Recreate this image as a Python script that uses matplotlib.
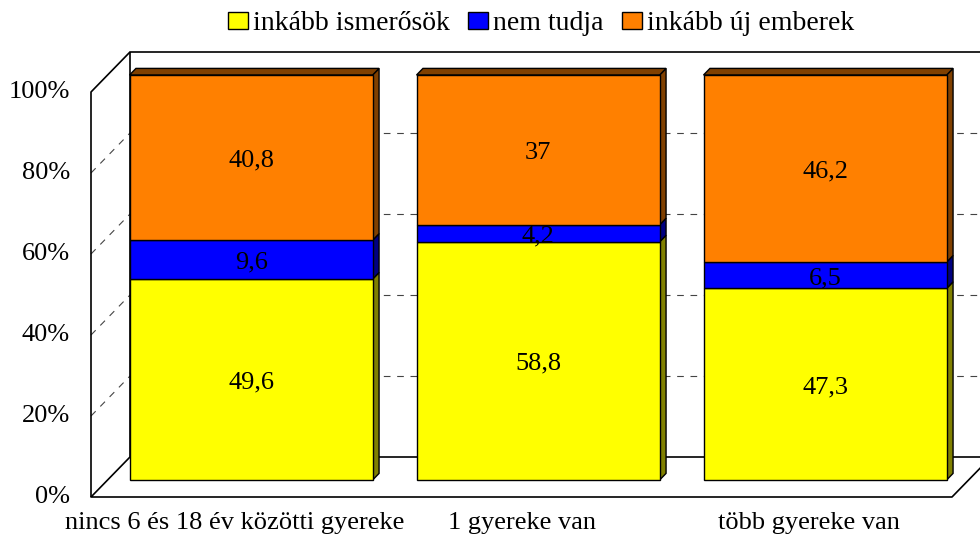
import matplotlib
matplotlib.use("Agg")
import matplotlib.pyplot as plt
from matplotlib.patches import Polygon, Patch

categories = ["nincs 6 és 18 év közötti gyereke", "1 gyereke van", "több gyereke van"]
series_names = ["inkább ismerősök", "nem tudja", "inkább új emberek"]
ismerosok = [49.6, 58.8, 47.3]
nem_tudja = [9.6, 4.2, 6.5]
uj_emberek = [40.8, 37.0, 46.2]
series_values = [ismerosok, nem_tudja, uj_emberek]
y_ticks = [0, 20, 40, 60, 80, 100]

front_colors = ["#FFFF00", "#0000FF", "#FF8000"]
side_colors = ["#808000", "#000080", "#804000"]

plt.rcParams['font.family'] = ['Liberation Serif', 'DejaVu Serif']
FS = 19

fig = plt.figure(figsize=(9.8, 5.4), dpi=100)
ax = fig.add_axes([0, 0, 1, 1])
# front plane: x in category units, y in percent
ax.set_xlim(-0.5 - 91 / 287, (980 - 91) / 287 - 0.5)
ax.set_ylim((497 - 540) / 4.05, 497 / 4.05)
ax.axis("off")

DX = 39 / 287   # full depth shift in category units
DY = 40 / 4.05  # full depth shift in percent units


def P(c, v, d):
    return (c + d * DX, v + d * DY)


n = len(categories)
left, right = -0.5, n - 0.5

# back wall and side wall gridlines
for t in y_ticks[1:-1]:
    ax.plot(*zip(P(left, t, 1), P(right, t, 1)), color="#444444", lw=0.8,
            ls=(0, (6, 6)), zorder=1)
    ax.plot(*zip(P(left, t, 0), P(left, t, 1)), color="#444444", lw=0.8,
            ls=(0, (6, 6)), zorder=1)

# walls / floor outlines
lk = dict(color="black", lw=1.2, zorder=2, solid_capstyle="butt")
ax.plot(*zip(P(left, 0, 1), P(left, 100, 1), P(right, 100, 1)), **lk)
ax.plot(*zip(P(left, 0, 1), P(right, 0, 1)), **lk)
ax.plot(*zip(P(left, 0, 0), P(left, 100, 0), P(left, 100, 1)), **lk)
ax.plot(*zip(P(left, 0, 1), P(left, 0, 0), P(right, 0, 0), P(right, 0, 1)), **lk)

# y tick labels
for t in y_ticks:
    x, y = P(left, t, 0)
    ax.text(x - 0.074, y, f"{t}%", ha="right", va="center", fontsize=FS)

# category labels
for i, cat in enumerate(categories):
    ax.text(i, -6.4, cat, ha="center", va="center", fontsize=FS)

# bars
W = 0.847
D0, D1 = 0.425, 0.59
for i in range(n):
    x0, x1 = i - W / 2, i + W / 2
    base = 0.0
    for s, vals in enumerate(series_values):
        v = vals[i]
        top = base + v
        side = [P(x1, base, D0), P(x1, base, D1), P(x1, top, D1), P(x1, top, D0)]
        ax.add_patch(Polygon(side, closed=True, fc=side_colors[s], ec="black",
                             lw=1.0, zorder=3 + i))
        if s == len(series_values) - 1:
            tp = [P(x0, top, D0), P(x1, top, D0), P(x1, top, D1), P(x0, top, D1)]
            ax.add_patch(Polygon(tp, closed=True, fc=side_colors[s], ec="black",
                                 lw=1.0, zorder=3 + i))
        front = [P(x0, base, D0), P(x1, base, D0), P(x1, top, D0), P(x0, top, D0)]
        ax.add_patch(Polygon(front, closed=True, fc=front_colors[s], ec="black",
                             lw=1.0, zorder=3 + i))
        lx, ly = P(i, base + v / 2, D0)
        ax.text(lx, ly - 0.7, f"{v:g}".replace(".", ","), ha="center", va="center",
                fontsize=FS, zorder=10)
        base = top

handles = [Patch(fc=front_colors[s], ec="black", lw=1.0) for s in range(3)]
fig.legend(handles, series_names, loc="upper center", bbox_to_anchor=(0.552, 1.015),
           ncol=3, frameon=False, fontsize=20, handlelength=0.72, handleheight=0.55,
           handletextpad=0.18, columnspacing=0.65, borderpad=0.2)

fig.savefig("out.png", dpi=100)
